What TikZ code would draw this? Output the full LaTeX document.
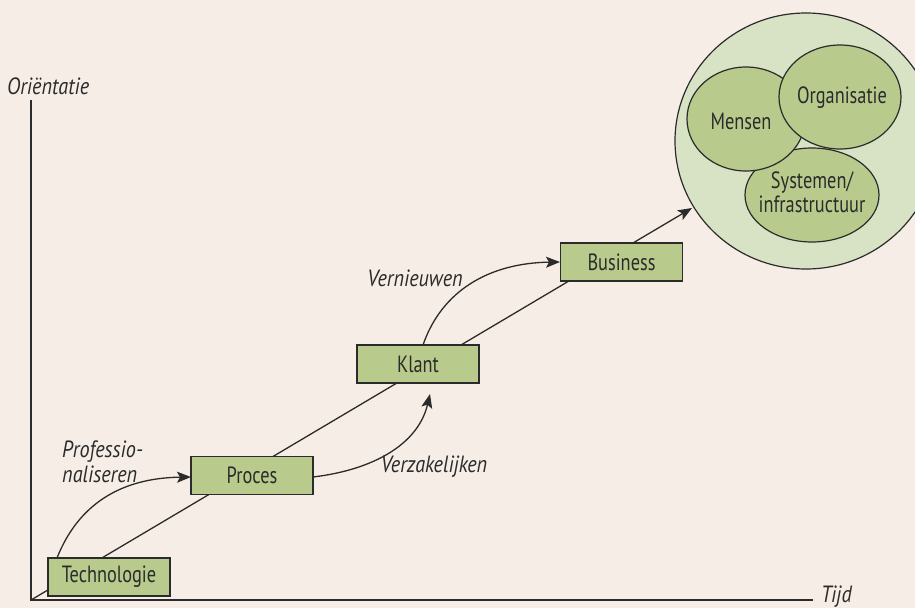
\documentclass[tikz,border=0pt]{standalone}
\usepackage{fontspec}
\setmainfont{PT Sans}[FakeStretch=0.78, ItalicFeatures={FakeStretch=0.86}]
\usetikzlibrary{arrows.meta,shapes.geometric}
\definecolor{bg}{HTML}{F6EEE6}
\definecolor{boxgreen}{HTML}{B8CB8D}
\definecolor{lightgreen}{HTML}{D7E3C4}
\definecolor{ink}{HTML}{2B2B2B}
\tikzset{
  txt/.style={font=\fontsize{23.5}{24}\selectfont, text=ink, inner sep=0pt},
  itxt/.style={font=\fontsize{23.5}{25}\selectfont\itshape, text=ink, inner sep=0pt},
  stepbox/.style={draw=ink, line width=1.4pt, fill=boxgreen, minimum width=122pt, minimum height=38pt, inner sep=0pt, font=\fontsize{23.5}{25}\selectfont, text=ink},
  blob/.style={draw=ink, line width=1.2pt, fill=boxgreen, ellipse, inner sep=0pt, font=\fontsize{23.5}{25}\selectfont, text=ink, align=center},
  axis/.style={draw=ink, line width=1.3pt},
  conn/.style={draw=ink, line width=1.3pt},
  arr/.style={-{Stealth[length=14pt,width=11pt,inset=3pt]}},
}
\begin{document}
\begin{tikzpicture}[x=1pt,y=-1pt]
\fill[bg] (0,0) rectangle (915,608);
\useasboundingbox (0,0) rectangle (915,608);

% big circle and its content
\node[draw=ink, line width=1.2pt, fill=lightgreen, ellipse, minimum width=262pt, minimum height=256pt, inner sep=0pt] (whole) at (806,141) {};
\node[blob, minimum width=134pt, minimum height=94pt] (sys) at (812,195) {};
\node[blob, minimum width=118pt, minimum height=104pt] (mensen) at (746,119) {};
\node[blob, minimum width=122pt, minimum height=104pt] (org) at (840,97) {};
\node[txt] (tmensen) at (741,121) {Mensen};
\node[txt] (torg) at (842,98) {Organisatie};
\node[txt, align=center] (tsys) at (812,192) {Systemen/\\infrastructuur};

% axes
\coordinate (origin) at (31,600);
\coordinate (ytop) at (31,100);
\coordinate (xend) at (813,600);
\draw[axis] (ytop) -- (origin) -- (xend);
\node[itxt, anchor=west] (ylab) at (7,86) {Oriëntatie};
\node[itxt, anchor=west] (xlab) at (821,597) {Tijd};

% main diagonal
\coordinate (tip) at (692,208);
\draw[conn, arr] (origin) -- (tip);

% boxes
\node[stepbox] (tech) at (109,577) {Technologie};
\node[stepbox] (proc) at (252,475.5) {Proces};
\node[stepbox] (klant) at (418,364) {Klant};
\node[stepbox] (bus) at (621.5,262) {Business};

% curved arrows
\coordinate (a1s) at (57,558);
\coordinate (a1e) at (191,477);
\draw[conn, arr] (a1s) .. controls (78,505) and (120,478) .. (a1e);
\coordinate (a2s) at (313,477);
\coordinate (a2e) at (430,394);
\draw[conn, arr] (a2s) .. controls (372,470) and (418,445) .. (a2e);
\coordinate (a3s) at (423,345);
\coordinate (a3e) at (560,262);
\draw[conn, arr] (a3s) .. controls (442,290) and (490,263) .. (a3e);

% labels
\node[itxt, anchor=west, align=left] (lprof) at (62,462) {Professio-\\naliseren};
\node[itxt] (lverz) at (434,467) {Verzakelijken};
\node[itxt] (lvern) at (415,278) {Vernieuwen};
\end{tikzpicture}
\end{document}
